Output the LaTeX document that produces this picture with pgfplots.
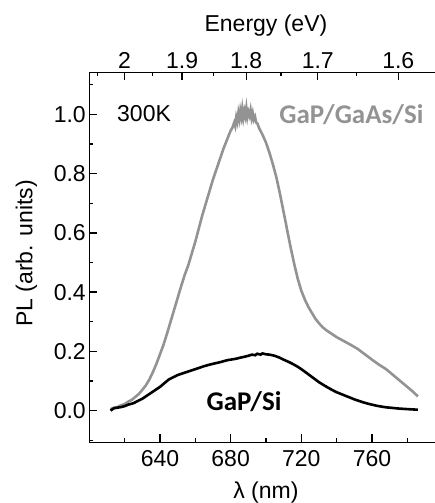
\documentclass[border=0pt]{standalone}
\usepackage{fontspec}
\setmainfont{Liberation Sans}
\newfontfamily\carlito{Carlito}
\usepackage{pgfplots}
\pgfplotsset{compat=1.18}
\definecolor{plgray}{HTML}{939393}

\begin{document}
\begin{tikzpicture}
\pgfplotsset{
  plbase/.style={
    scale only axis,
    width=353.3pt, height=370pt,
    xmin=600, xmax=800,
    ymin=-0.107, ymax=1.142,
    axis line style={line width=1.5pt},
    tick style={line width=1.3pt, black},
    major tick length=8pt,
    minor tick length=4pt,
    tick align=inside,
    /pgf/number format/assume math mode=true,
    tick label style={font=\fontsize{23}{27}\selectfont},
    label style={font=\fontsize{23}{27}\selectfont},
  }
}
% main axis: wavelength
\begin{axis}[plbase,
  axis x line*=bottom, axis y line*=left,
  xtick={640,680,720,760},
  minor xtick={620,660,700,740,780},
  ytick={0,0.2,0.4,0.6,0.8,1.0},
  minor ytick={-0.1,0.1,0.3,0.5,0.7,0.9,1.1},
  yticklabel style={/pgf/number format/.cd,fixed,fixed zerofill,precision=1},
  xticklabel style={yshift=-5pt},
  xlabel={λ (nm)},
  ylabel={PL (arb. units)},
  xlabel style={at={(axis description cs:0.5,-0.137)}, anchor=center},
  ylabel style={at={(axis description cs:-0.178,0.51)}, anchor=center},
  clip=false,
]
\addplot[plgray, line width=2.6pt] coordinates {
  (612,0.005) (614,0.010) (616,0.012) (618,0.018) (620,0.022) (622,0.030)
  (624,0.036) (626,0.046) (628,0.056) (630,0.070) (632,0.085) (634,0.105)
  (636,0.130) (638,0.158) (640,0.190) (642,0.222) (644,0.260) (646,0.300)
  (648,0.340) (650,0.380) (652,0.420) (654,0.458) (656,0.490) (658,0.530)
  (660,0.570) (662,0.615) (664,0.660) (666,0.700) (668,0.740) (670,0.780)
  (672,0.815) (674,0.850) (676,0.885) (678,0.915) (680,0.945) (681,0.955)
  (682,0.972) (682.6,0.960) (683.2,0.990) (683.8,0.975) (684.4,1.005)
  (685,0.985) (685.5,1.012) (686.1,0.992) (686.6,1.018) (687.2,0.988)
  (687.8,1.010) (688.3,0.995) (688.9,1.022) (689.5,0.990) (690.1,1.008)
  (690.7,0.996) (691.3,1.015) (691.9,0.988) (692.5,1.004) (693.1,0.982)
  (693.8,0.992) (694.5,0.972) (695.3,0.968) (696,0.955) (698,0.932)
  (700,0.905) (702,0.870) (704,0.830)
  (706,0.785) (708,0.730) (710,0.670) (712,0.610) (714,0.550) (716,0.495)
  (718,0.445) (720,0.405) (722,0.375) (724,0.350) (726,0.330) (728,0.310)
  (730,0.295) (732,0.282) (734,0.272) (737,0.260) (740,0.248) (744,0.235)
  (748,0.222) (752,0.208) (756,0.190) (760,0.172) (764,0.155) (768,0.140)
  (772,0.120) (776,0.100) (780,0.080) (783,0.065) (786,0.048)
};
\addplot[black, line width=2.6pt] coordinates {
  (612,0.000) (614,0.008) (616,0.010) (618,0.012) (620,0.015) (622,0.020)
  (625,0.025) (628,0.034) (630,0.040) (633,0.052) (635,0.060) (638,0.072)
  (640,0.080) (643,0.095) (645,0.105) (648,0.114) (650,0.120) (653,0.126)
  (655,0.130) (658,0.136) (660,0.140) (663,0.146) (665,0.150) (668,0.155)
  (670,0.158) (673,0.162) (675,0.165) (678,0.170) (680,0.172) (683,0.175)
  (685,0.178) (688,0.182) (690,0.185) (692,0.189) (694,0.187) (695,0.192)
  (697,0.189) (698,0.193) (700,0.190) (702,0.189) (705,0.185) (708,0.178)
  (710,0.172) (713,0.164) (715,0.158) (718,0.148) (720,0.140) (723,0.127)
  (725,0.118) (728,0.105) (730,0.096) (733,0.085) (735,0.078) (738,0.068)
  (740,0.062) (743,0.055) (745,0.050) (748,0.043) (750,0.038) (753,0.032)
  (755,0.028) (758,0.023) (760,0.020) (763,0.016) (765,0.014) (768,0.011)
  (770,0.010) (775,0.007) (780,0.005) (786,0.003)
};
\node[font=\fontsize{23}{27}\selectfont] at (axis cs:631,1.004) {300K};
\node[font=\carlito\bfseries\fontsize{27}{30}\selectfont, text=plgray, anchor=west]
  at (axis cs:705.6,1.0) {GaP/GaAs/Si};
\node[font=\carlito\bfseries\fontsize{27}{30}\selectfont, text=black]
  at (axis cs:687.6,0.03) {GaP/Si};
\coordinate (bl) at (rel axis cs:0,0);
\coordinate (tl) at (rel axis cs:0,1);
\end{axis}
% top axis: photon energy
\begin{axis}[plbase,
  axis x line*=top, axis y line=none,
  xtick={619.92,652.55,688.80,729.32,774.90},
  xticklabels={2,1.9,1.8,1.7,1.6},
  minor xtick={604.80,635.82,670.18,708.48,751.42},
  ytick=\empty,
  xlabel={Energy (eV)},
  xlabel style={at={(axis description cs:0.5,1.127)}, anchor=center},
]
\addplot[draw=none] coordinates {(700,0.5)};
\end{axis}
\pgfresetboundingbox
\path[use as bounding box] ([xshift=-89.3pt,yshift=-60.7pt]bl) rectangle ([xshift=345.7pt,yshift=72.3pt]tl);
\end{tikzpicture}
\end{document}
